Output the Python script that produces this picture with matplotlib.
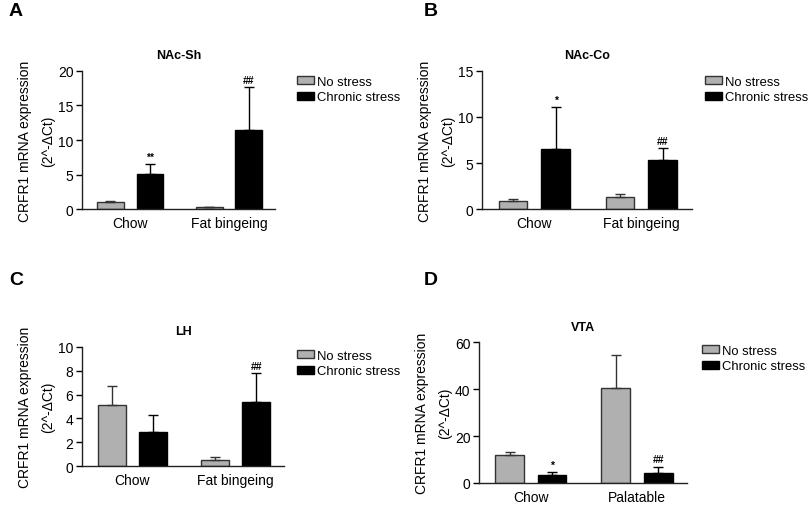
import numpy as np
import matplotlib
matplotlib.use("Agg")
import matplotlib.pyplot as plt
from matplotlib.patches import Patch

plt.rcParams['font.family'] = ['Liberation Sans', 'DejaVu Sans']

# data (mean, upper SEM)
titles = ['NAc-Sh', 'NAc-Co', 'LH', 'VTA']
letters = ['A', 'B', 'C', 'D']
groups = [['Chow', 'Fat bingeing'], ['Chow', 'Fat bingeing'],
          ['Chow', 'Fat bingeing'], ['Chow', 'Palatable']]
no_stress = [[1.0, 0.25], [0.9, 1.35], [5.1, 0.55], [11.8, 40.5]]
no_stress_err = [[0.15, 0.1], [0.25, 0.25], [1.6, 0.2], [1.3, 14.0]]
chronic = [[5.1, 11.4], [6.5, 5.3], [2.85, 5.4], [3.6, 4.3]]
chronic_err = [[1.4, 6.2], [4.6, 1.3], [1.4, 2.4], [1.0, 2.7]]
# marks above bars: (series, group) -> text
marks = [{(1, 0): '**', (1, 1): '##'},
         {(1, 0): '*', (1, 1): '##'},
         {(1, 1): '##'},
         {(1, 0): '*', (1, 1): '##'}]
ylims = [20, 15, 10, 60]
yticks = [[0, 5, 10, 15, 20], [0, 5, 10, 15], [0, 2, 4, 6, 8, 10], [0, 20, 40, 60]]

W, H = 810, 510
# axes rectangles [left, bottom, width, height]
rects = [[0.101, 0.588, 0.239, 0.271],
         [0.595, 0.588, 0.259, 0.271],
         [0.101, 0.084, 0.250, 0.234],
         [0.591, 0.051, 0.257, 0.276]]
letter_px = [(9, 3), (424, 3), (9, 272), (424, 272)]
legend_px = [(297, 77), (705, 77), (297, 351), (702, 346)]

gray = '#b0b0b0'
edge = '#333333'

fig = plt.figure(figsize=(8.1, 5.1), dpi=100)

for i in range(4):
    ax = fig.add_axes(rects[i])
    x = np.arange(2)
    off, w = 0.2, 0.27
    ax.bar(x - off, no_stress[i], w, color=gray, edgecolor=edge, linewidth=1.0,
           yerr=[np.zeros(2), no_stress_err[i]], capsize=3.5,
           error_kw=dict(ecolor=edge, elinewidth=1.0, capthick=1.0))
    ax.bar(x + off, chronic[i], w, color='black', edgecolor='black', linewidth=1.0,
           yerr=[np.zeros(2), chronic_err[i]], capsize=3.5,
           error_kw=dict(ecolor='black', elinewidth=1.0, capthick=1.0))
    for (s, g), txt in marks[i].items():
        if s == 0:
            top = no_stress[i][g] + no_stress_err[i][g]
            xp = g - off
        else:
            top = chronic[i][g] + chronic_err[i][g]
            xp = g + off
        ax.text(xp, top + ylims[i] * 0.015, txt, ha='center', va='bottom',
                fontsize=7.5, fontweight='bold')
    ax.set_xlim(-0.49, 1.47)
    ax.set_ylim(0, ylims[i])
    ax.set_yticks(yticks[i])
    ax.set_xticks(x)
    ax.set_xticklabels(groups[i])
    ax.tick_params(axis='x', length=0, pad=5, labelsize=10)
    ax.tick_params(axis='y', length=4, width=1.0, labelsize=10, pad=2)
    for sp in ['top', 'right']:
        ax.spines[sp].set_visible(False)
    for sp in ['left', 'bottom']:
        ax.spines[sp].set_linewidth(1.0)
        ax.spines[sp].set_color('#222222')
    ax.set_title(titles[i], fontsize=9, fontweight='bold', pad=9)
    ax.set_ylabel('CRFR1 mRNA expression\n(2^-ΔCt)', fontsize=10, labelpad=2,
                  linespacing=1.85)
    handles = [Patch(facecolor=gray, edgecolor=edge, linewidth=1.0),
               Patch(facecolor='black', edgecolor='black')]
    lx, ly = legend_px[i]
    ax.legend(handles, ['No stress', 'Chronic stress'], loc='upper left',
              bbox_to_anchor=(lx / W, 1 - ly / H), bbox_transform=fig.transFigure,
              frameon=False, fontsize=9.4,
              handlelength=1.3, handleheight=0.55, handletextpad=0.23,
              labelspacing=0.25, borderaxespad=0, borderpad=0)
    fig.text(letter_px[i][0] / W, 1 - letter_px[i][1] / H, letters[i], fontsize=14,
             fontweight='bold', va='top', ha='left')

fig.savefig('out.png', dpi=100)
